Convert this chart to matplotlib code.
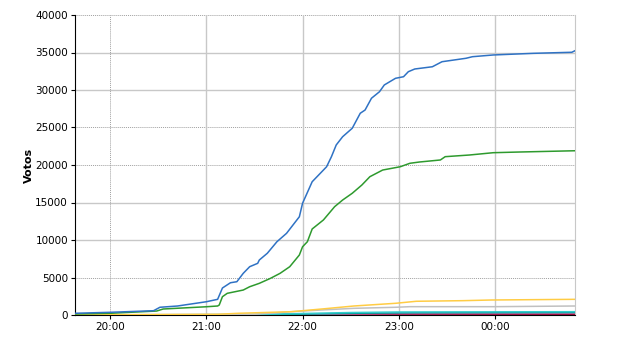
# -*- coding: utf-8 -*-
import datetime as dt
import matplotlib
matplotlib.use('Agg')
import matplotlib.pyplot as plt
import matplotlib.dates as mdates

# horas (HH:MM) e votos
azul_t = ['19:38', '20:00', '20:27', '20:31', '20:42', '21:00', '21:07', '21:10', '21:15', '21:19',
          '21:23', '21:27', '21:32', '21:33', '21:38', '21:44', '21:50', '21:58', '22:00', '22:06',
          '22:12', '22:15', '22:18', '22:21', '22:25', '22:31', '22:36', '22:39', '22:43', '22:48',
          '22:51', '22:58', '23:03', '23:06', '23:10', '23:21', '23:27', '23:42', '23:46', '23:59',
          '00:24', '00:48', '00:50']
azul_v = [230, 360, 570, 1030, 1200, 1770, 2090, 3600, 4300, 4440,
          5560, 6440, 6890, 7330, 8230, 9770, 10890, 13100, 14900, 17770,
          19100, 19770, 21100, 22670, 23770, 24900, 26900, 27330, 28900, 29770,
          30670, 31560, 31770, 32440, 32800, 33100, 33770, 34230, 34440, 34670,
          34890, 35030, 35240]

verde_t = ['19:38', '20:00', '20:29', '20:33', '21:00', '21:07', '21:08', '21:10', '21:13', '21:23',
           '21:27', '21:33', '21:40', '21:46', '21:52', '21:58', '22:00', '22:03', '22:06', '22:13',
           '22:20', '22:25', '22:31', '22:37', '22:42', '22:50', '23:01', '23:07', '23:13', '23:26',
           '23:29', '23:44', '23:59', '00:15', '00:50']
verde_v = [130, 230, 530, 800, 1100, 1200, 1330, 2440, 2890, 3330,
           3770, 4220, 4890, 5560, 6440, 8000, 9100, 9770, 11470, 12670,
           14440, 15330, 16230, 17330, 18440, 19330, 19770, 20230, 20400, 20670,
           21110, 21330, 21640, 21730, 21900]

amarelo_t = ['19:38', '21:07', '21:20', '21:53', '22:12', '22:32', '22:58', '23:11', '23:40', '23:58', '00:50']
amarelo_v = [20, 93, 230, 440, 800, 1200, 1560, 1830, 1910, 2000, 2090]

cinza_t = ['19:38', '21:30', '21:53', '22:12', '22:32', '22:58', '23:07', '00:00', '00:50']
cinza_v = [10, 90, 440, 670, 890, 1030, 1110, 1110, 1200]

ciano_t = ['19:38', '21:30', '22:00', '22:30', '23:00', '00:50']
ciano_v = [10, 60, 200, 330, 400, 440]

verde_agua_t = ['19:38', '21:40', '22:10', '22:40', '23:10', '00:50']
verde_agua_v = [5, 50, 150, 250, 300, 330]

rosa_t = ['19:38', '21:40', '22:20', '23:00', '00:50']
rosa_v = [5, 40, 120, 180, 220]

vinho_t = ['19:38', '21:40', '22:30', '00:50']
vinho_v = [0, 20, 60, 90]


def horas(lista):
    base = dt.datetime(2010, 10, 3)
    res = []
    for s in lista:
        h, m = map(int, s.split(':'))
        d = base + dt.timedelta(hours=h, minutes=m)
        if h < 12:
            d += dt.timedelta(days=1)
        res.append(d)
    return res


fig = plt.figure(figsize=(6.4, 3.5), dpi=100)
ax = fig.add_axes([75 / 640, 35 / 350, 500 / 640, 300 / 350])

series = [
    (vinho_t, vinho_v, '#990033'),
    (rosa_t, rosa_v, '#cc6699'),
    (verde_agua_t, verde_agua_v, '#009999'),
    (ciano_t, ciano_v, '#33cccc'),
    (cinza_t, cinza_v, '#c0c0c0'),
    (amarelo_t, amarelo_v, '#ffcc44'),
    (verde_t, verde_v, '#2e9a2e'),
    (azul_t, azul_v, '#2f72c4'),
]
for t, v, c in series:
    ax.plot(horas(t), v, color=c, linewidth=1.1, zorder=3)

xmin, xmax = horas(['19:38'])[0], horas(['00:50'])[0]
ax.set_xlim(xmin, xmax)
ax.set_ylim(0, 40000)
ax.set_yticks(range(0, 40001, 5000))
ticks_x = horas(['20:00', '21:00', '22:00', '23:00', '00:00'])
ax.set_xticks(ticks_x)
ax.xaxis.set_major_formatter(mdates.DateFormatter('%H:%M'))

# grade (algumas linhas pontilhadas, como no original)
for y in range(5000, 40001, 5000):
    if y in (5000, 20000, 25000, 40000):
        ax.axhline(y, color='#a0a0a0', linestyle=(0, (1, 1)), linewidth=0.7, zorder=1)
    else:
        ax.axhline(y, color='#c8c8c8', linewidth=1.0, zorder=1)
for i, x in enumerate(ticks_x):
    if i == 0:
        ax.axvline(x, color='#a0a0a0', linestyle=(0, (1, 1)), linewidth=0.7, zorder=1)
    else:
        ax.axvline(x, color='#c8c8c8', linewidth=1.0, zorder=1)

ax.spines['top'].set_visible(False)
ax.spines['right'].set_color('#c8c8c8')
ax.spines['left'].set_color('black')
ax.spines['bottom'].set_color('black')
ax.tick_params(axis='both', labelsize=7.5, length=3, width=0.8, color='black', pad=2)
ax.set_ylabel('Votos', fontsize=8, fontweight='bold', labelpad=1)

plt.savefig('out.png', dpi=100)
